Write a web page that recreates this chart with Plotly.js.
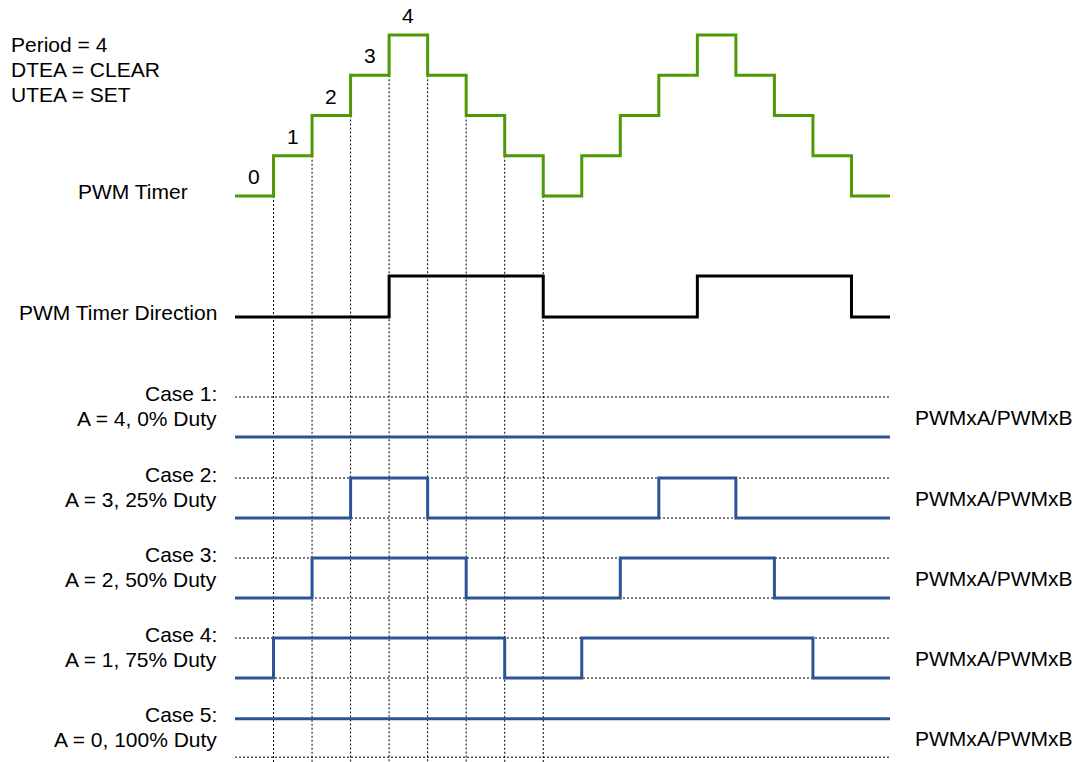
<!DOCTYPE html>
<html>
<head>
<meta charset="utf-8">
<script src="https://cdn.plot.ly/plotly-3.0.1.min.js"></script>
<style>html,body{margin:0;padding:0;background:#fff;}#chart{width:1083px;height:762px;}</style>
</head>
<body>
<div id="chart"></div>
<script>
// ---------- data ----------
const timerCounts = [0,1,2,3,4,3,2,1,0,1,2,3,4,3,2,1,0];
const timerDirection = [0,0,0,0,1,1,1,1,0,0,0,0,1,1,1,1,0];
const case1 = [0,0,0,0,0,0,0,0,0,0,0,0,0,0,0,0,0];
const case2 = [0,0,0,1,1,0,0,0,0,0,0,1,1,0,0,0,0];
const case3 = [0,0,1,1,1,1,0,0,0,0,1,1,1,1,0,0,0];
const case4 = [0,1,1,1,1,1,1,0,0,1,1,1,1,1,1,0,0];
const case5 = [1,1,1,1,1,1,1,1,1,1,1,1,1,1,1,1,1];
const caseTitles = ['Case 1:','Case 2:','Case 3:','Case 4:','Case 5:'];
const caseDescriptions = ['A = 4, 0% Duty','A = 3, 25% Duty','A = 2, 50% Duty','A = 1, 75% Duty','A = 0, 100% Duty'];
const outputLabel = 'PWMxA/PWMxB';
const infoLines = ['Period = 4','DTEA = CLEAR','UTEA = SET'];
const period = 4;
const markedTransitions = 8;

// ---------- layout helpers ----------
const W = 1083, H = 762;
const FONT = 'Liberation Sans, Arial, sans-serif';
const GREEN = '#4e9a06', BLUE = '#2b5497', DOT = '#000000';
const nSeg = timerCounts.length;
const xLeftPx = 235, xRightPx = 890;
const unit = (xRightPx - xLeftPx) / nSeg;
const px2x = p => p / W;
const PAD = 5; // px of breathing room so edge lines are not clipped
const dom = (topPx, botPx) => [1 - (botPx + PAD) / H, 1 - (topPx - PAD) / H];

const timerZeroPx = 196, timerTopPx = 35;
const pxPerCount = (timerZeroPx - timerTopPx) / period;
const timerLow = -(H - timerZeroPx) / pxPerCount;

const dirHighPx = 276, dirLowPx = 317;
const caseHighPx = [397, 478, 558, 638, 719];
const caseHeight = 40;
const cases = [case1, case2, case3, case4, case5];

const edges = [];
for (let i = 0; i <= nSeg; i++) edges.push(i);
const stepY = v => v.concat([v[v.length - 1]]);

const traces = [];
// horizontal dotted reference lines for cases
cases.forEach((c, k) => {
  const ax = 'y' + (k + 3);
  traces.push({x:[0, nSeg, null, 0, nSeg], y:[1, 1, null, 0, 0], yaxis: ax, mode:'lines',
    line:{color:DOT, width:1, dash:'2px,2px'}, hoverinfo:'skip', showlegend:false});
});
// vertical dotted lines from timer steps
const vx = [], vy = [];
for (let i = 1; i <= markedTransitions; i++) {
  vx.push(i, i, null);
  vy.push(Math.min(timerCounts[i - 1], timerCounts[i]), timerLow, null);
}
traces.push({x:vx, y:vy, yaxis:'y', mode:'lines', line:{color:DOT, width:1, dash:'2px,2px'}, hoverinfo:'skip', showlegend:false});

// timer
traces.push({x:edges, y:stepY(timerCounts), yaxis:'y', mode:'lines', line:{shape:'hv', color:GREEN, width:3}, showlegend:false});
// direction
traces.push({x:edges, y:stepY(timerDirection), yaxis:'y2', mode:'lines', line:{shape:'hv', color:'#000', width:3}, showlegend:false});
// cases
cases.forEach((c, k) => {
  traces.push({x:edges, y:stepY(c), yaxis:'y' + (k + 3), mode:'lines', line:{shape:'hv', color:BLUE, width:3}, showlegend:false});
});

const hidden = {visible:false, fixedrange:true, showgrid:false, zeroline:false};
const padDir = PAD / (dirLowPx - dirHighPx);
const padCase = PAD / caseHeight;
const layout = {
  width: W, height: H,
  margin: {l:0, r:0, t:0, b:0, pad:0},
  paper_bgcolor:'#fff', plot_bgcolor:'rgba(0,0,0,0)',
  showlegend:false,
  font:{family:FONT, size:21, color:'#000'},
  xaxis: Object.assign({range:[-xLeftPx / unit, (W - xLeftPx) / unit], domain:[0,1]}, hidden),
  yaxis: Object.assign({range:[timerLow, period + PAD / pxPerCount], domain:[0, 1 - (timerTopPx - PAD) / H]}, hidden),
  yaxis2: Object.assign({range:[-padDir, 1 + padDir], domain:dom(dirHighPx, dirLowPx), anchor:'x'}, hidden),
  annotations: []
};
caseHighPx.forEach((hp, k) => {
  layout['yaxis' + (k + 3)] = Object.assign({range:[-padCase, 1 + padCase], domain:dom(hp, hp + caseHeight), anchor:'x'}, hidden);
});

const ann = (o) => Object.assign({showarrow:false, font:{family:FONT, size:21, color:'#000'}, borderpad:0}, o);
const A = layout.annotations;
// info text
const infoY = [44.5, 70, 95];
infoLines.forEach((t, i) => A.push(ann({text:t, xref:'paper', yref:'paper', x:px2x(10), y:1 - infoY[i] / H, xanchor:'left', yanchor:'middle'})));
// step count labels on rising half
for (let i = 0; i <= period; i++) {
  A.push(ann({text:String(timerCounts[i]), xref:'x', yref:'y', x:i + 0.5, y:timerCounts[i], yshift:19.5, xanchor:'center', yanchor:'middle'}));
}
A.push(ann({text:'PWM Timer', xref:'paper', yref:'y', x:px2x(189), y:0, yshift:5, xanchor:'right', yanchor:'middle'}));
A.push(ann({text:'PWM Timer Direction', xref:'paper', yref:'y2', x:px2x(218), y:0, yshift:4.5, xanchor:'right', yanchor:'middle'}));
caseHighPx.forEach((hp, k) => {
  const ax = 'y' + (k + 3);
  A.push(ann({text:caseTitles[k], xref:'paper', yref:ax, x:px2x(218), y:1, yshift:4, xanchor:'right', yanchor:'middle'}));
  A.push(ann({text:caseDescriptions[k], xref:'paper', yref:ax, x:px2x(218), y:1, yshift:-21, xanchor:'right', yanchor:'middle'}));
  A.push(ann({text:outputLabel, xref:'paper', yref:ax, x:px2x(914), y:0.5, xanchor:'left', yanchor:'middle'}));
});

Plotly.newPlot('chart', traces, layout, {staticPlot:true, displayModeBar:false});
</script>
</body>
</html>
